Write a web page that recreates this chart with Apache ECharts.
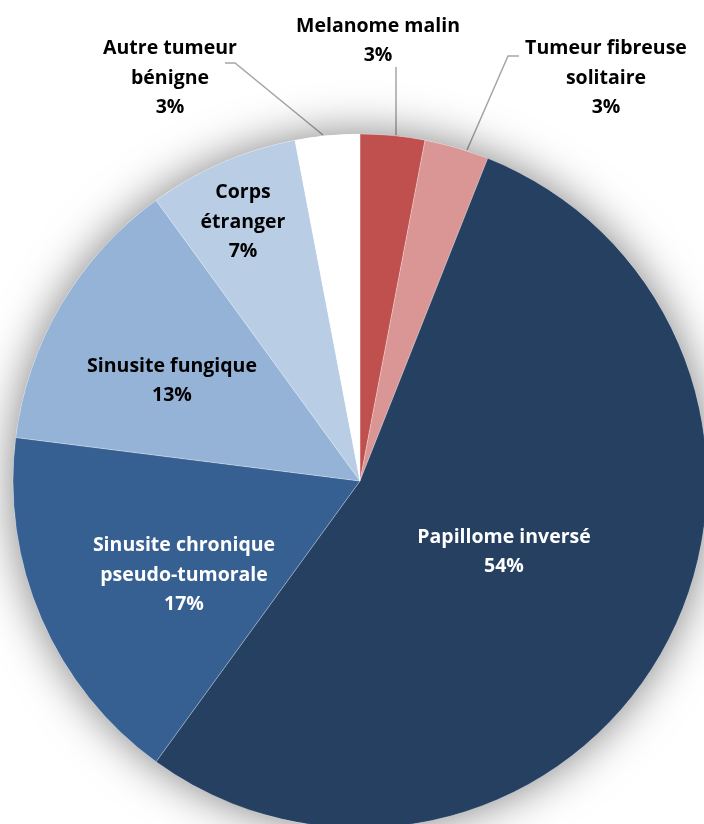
<!DOCTYPE html>
<html>
<head>
<meta charset="utf-8">
<script src="https://cdn.jsdelivr.net/npm/echarts@6/dist/echarts.min.js"></script>
<style>
  html, body { margin: 0; padding: 0; background: #ffffff; }
  #chart { width: 704px; height: 824px; }
</style>
</head>
<body>
<div id="chart"></div>
<script>
// Data (clockwise from 12 o'clock)
const categories = [
  "Melanome malin",
  "Tumeur fibreuse\nsolitaire",
  "Papillome inversé",
  "Sinusite chronique\npseudo-tumorale",
  "Sinusite fungique",
  "Corps\nétranger",
  "Autre tumeur\nbénigne"
];
const percentages = [3, 3, 54, 17, 13, 7, 3];

// Styling (not data)
const sliceColors = ["#C0504D", "#D99694", "#254061", "#376092", "#95B3D7", "#B9CDE5", "#FFFFFF"];
const labelColors = ["#000", "#000", "#fff", "#fff", "#000", "#000", "#000"];
const outside = [true, true, false, false, false, false, true];

// Label placement (pixel layout of the annotation text)
const labelSpots = [
  { x: 378, y: 41, line: [[396, 135], [396, 67], [396, 67]] },
  { x: 606, y: 78, line: [[467, 150], [508, 56], [519, 56]] },
  { x: 504, y: 552 },
  { x: 184, y: 575 },
  { x: 172, y: 381 },
  { x: 243, y: 222 },
  { x: 170, y: 78, line: [[323, 135], [235, 63], [225, 63]] }
];

const CENTER = [360, 481];
const RADIUS = 347;

const chart = echarts.init(document.getElementById('chart'), null, { renderer: 'canvas' });

const pieData = categories.map((name, i) => ({
  name: name,
  value: percentages[i],
  itemStyle: { color: sliceColors[i] },
  label: {
    show: true,
    position: outside[i] ? 'outside' : 'inside',
    color: labelColors[i]
  },
  labelLine: { show: outside[i] }
}));

chart.setOption({
  animation: false,
  backgroundColor: '#ffffff',
  series: [
    {
      // soft glow/shadow behind the pie
      type: 'pie',
      silent: true,
      center: CENTER,
      radius: RADIUS,
      startAngle: 90,
      label: { show: false },
      labelLine: { show: false },
      itemStyle: {
        color: '#ffffff',
        shadowBlur: 45,
        shadowColor: 'rgba(0,0,0,0.5)',
        shadowOffsetX: 0,
        shadowOffsetY: 0
      },
      data: [{ value: 1, name: '' }]
    },
    {
      type: 'pie',
      center: CENTER,
      radius: RADIUS,
      startAngle: 90,
      clockwise: true,
      avoidLabelOverlap: false,
      itemStyle: { borderColor: 'rgba(255,255,255,0.5)', borderWidth: 0.5 },
      label: {
        fontFamily: 'Open Sans',
        fontWeight: 'bold',
        fontSize: 19.5,
        lineHeight: 29.5,
        align: 'center',
        formatter: p => p.name + '\n' + p.value + '%'
      },
      labelLine: {
        lineStyle: { color: '#A6A6A6', width: 1.5 }
      },
      labelLayout: function (params) {
        const s = labelSpots[params.dataIndex];
        const out = { x: s.x, y: s.y, align: 'center', verticalAlign: 'middle' };
        if (s.line) out.labelLinePoints = s.line;
        return out;
      },
      data: pieData
    }
  ]
});
</script>
</body>
</html>
